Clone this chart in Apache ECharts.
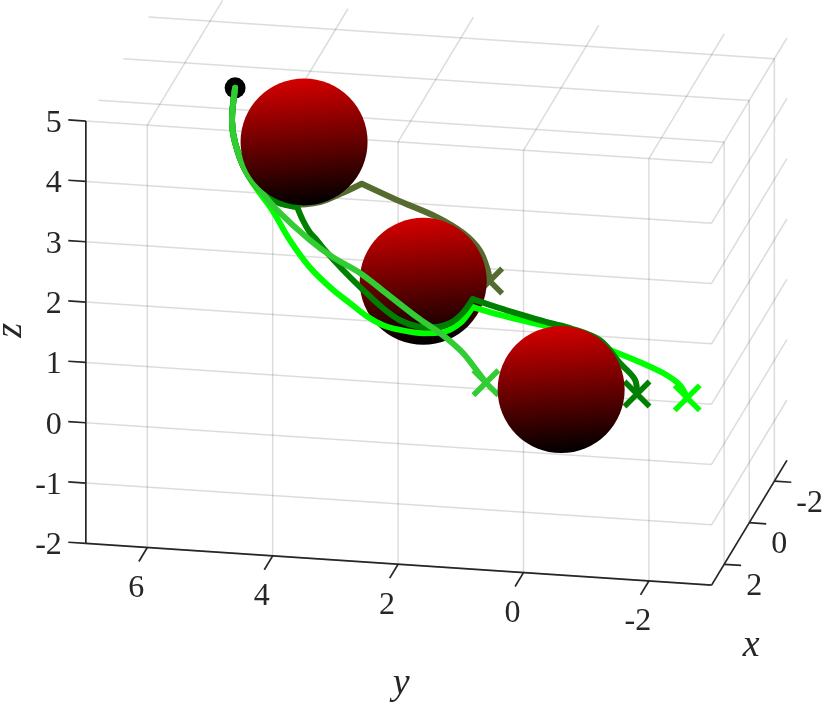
<!DOCTYPE html>
<html><head><meta charset="utf-8">
<style>html,body{margin:0;padding:0;background:#fff}#c{width:822px;height:703px}</style>
<script src="https://cdn.jsdelivr.net/npm/echarts@6/dist/echarts.min.js"></script>
</head><body><div id="c"></div>
<script>
// axis ticks
var xTicks = [2, 0, -2];
var yTicks = [6, 4, 2, 0, -2];
var zTicks = [5, 4, 3, 2, 1, 0, -1, -2];
var xLim = [-3, 3], yLim = [-3, 6.98], zLim = [-2, 5];

// obstacles (centres, unit radius)
var sphereX = [0.5, 1, 0];
var sphereY = [4, 2, 0];
var sphereZ = [4, 2, 0];

// start point
var startPoint = [0, 5.20, 4.64];

// trajectories, read at x = 0; repeated entries are corners
var olive = {
  y: [5.20, 5.25, 5.20, 5.04, 4.68, 4.33, 3.85, 3.48, 3.18, 3.18, 2.62, 1.98, 1.57, 1.30, 1.17, 1.14],
  z: [4.64, 4.10, 3.73, 3.29, 2.90, 2.76, 2.84, 3.02, 3.19, 3.19, 2.96, 2.72, 2.49, 2.22, 1.90, 1.72]
};
var bright = {
  y: [5.20, 5.25, 5.20, 5.04, 4.84, 4.61, 4.33, 4.01, 3.64, 3.37, 3.10, 2.84, 2.57, 2.20, 1.89, 1.61, 1.41, 1.41, 0.98, 0.45, 0.18, -0.30, -0.78, -1.26, -1.62, -1.89, -2.01],
  z: [4.64, 4.10, 3.73, 3.29, 2.97, 2.66, 2.18, 1.75, 1.40, 1.20, 1.00, 0.87, 0.81, 0.78, 0.82, 0.99, 1.27, 1.27, 1.17, 1.07, 1.02, 0.88, 0.71, 0.54, 0.39, 0.21, 0.00]
};
var dark = {
  y: [5.20, 5.25, 5.20, 5.04, 4.80, 4.53, 4.21, 4.21, 4.12, 4.01, 3.90, 3.77, 3.48, 3.21, 2.84, 2.57, 2.30, 2.05, 1.77, 1.57, 1.41, 1.41, 0.98, 0.61, 0.18, -0.14, -0.62, -0.94, -1.18, -1.21],
  z: [4.64, 4.10, 3.73, 3.29, 2.97, 2.79, 2.73, 2.73, 2.52, 2.33, 2.21, 2.05, 1.74, 1.48, 1.15, 0.97, 0.89, 0.89, 0.98, 1.16, 1.40, 1.40, 1.28, 1.19, 1.09, 1.03, 0.86, 0.50, 0.24, 0.01]
};
var lime = {
  y: [5.20, 5.25, 5.20, 5.04, 4.80, 4.53, 4.01, 3.64, 3.21, 2.84, 2.30, 1.89, 1.57, 1.33, 1.20],
  z: [4.64, 4.10, 3.73, 3.29, 2.97, 2.66, 2.20, 1.94, 1.71, 1.44, 1.04, 0.77, 0.50, 0.20, 0.03]
};

// orthographic view of the box
function project(x, y, z) {
  return [
    147.3 + (6 - y) * 62.7 + (3 - x) * 12.55,
    547.5 + (6 - y) * 4.18 - (3 - x) * 20.8 - (z + 2) * 60.33
  ];
}
var SPHERE_PX = 63.5;
var FONT = 'Liberation Serif';
var GRID = 'rgba(38,38,38,0.16)', AXIS = '#262626';

function seg(a, b, color, width, z) {
  return { type: 'line', data: [project.apply(null, a), project.apply(null, b)], showSymbol: false, silent: true,
    z: z, lineStyle: { color: color, width: width, cap: 'butt', opacity: 1 } };
}
function pieces(t) {
  var out = [], cur = [];
  t.y.forEach(function (v, i) {
    cur.push(project(0, v, t.z[i]));
    if (i > 0 && i < t.y.length - 1 && t.y[i + 1] === v && t.z[i + 1] === t.z[i]) { out.push(cur); cur = []; }
  });
  out.push(cur);
  return out;
}
function traj(list, t, color, width, z) {
  pieces(t).forEach(function (p) {
    list.push({ type: 'line', smooth: 0.33, showSymbol: false, silent: true, z: z, data: p,
      lineStyle: { color: color, width: width, join: 'round', cap: 'round' } });
  });
}
function cross(t, color, z) {
  var n = t.y.length - 1;
  return { type: 'scatter', silent: true, z: z, symbol: 'path://M0,0L10,10M10,0L0,10', symbolSize: 25,
    data: [project(0, t.y[n], t.z[n])],
    itemStyle: { color: 'none', borderColor: color, borderWidth: 5.5, borderCap: 'butt', opacity: 1 } };
}
function label(text, p, dx, dy, align, size, extra) {
  var l = { show: true, position: 'inside', formatter: text, color: AXIS, fontFamily: FONT, fontSize: size,
    align: align, verticalAlign: 'middle', offset: [dx, dy], opacity: 1 };
  if (extra) for (var k in extra) l[k] = extra[k];
  return { type: 'scatter', silent: true, z: 1, symbolSize: 1, data: [p], itemStyle: { color: 'rgba(0,0,0,0)', opacity: 1 }, label: l };
}

var series = [];
// grid
zTicks.forEach(function (v) {
  series.push(seg([xLim[1], yLim[1], v], [xLim[1], yLim[0], v], GRID, 1.5, 1));
  series.push(seg([xLim[1], yLim[0], v], [xLim[0], yLim[0], v], GRID, 1.5, 1));
});
yTicks.forEach(function (v) {
  series.push(seg([xLim[1], v, zLim[0]], [xLim[1], v, zLim[1]], GRID, 1.5, 1));
  series.push(seg([xLim[1], v, zLim[1]], [xLim[0], v, zLim[1]], GRID, 1.5, 1));
});
xTicks.forEach(function (v) {
  series.push(seg([v, yLim[1], zLim[1]], [v, yLim[0], zLim[1]], GRID, 1.5, 1));
  series.push(seg([v, yLim[0], zLim[1]], [v, yLim[0], zLim[0]], GRID, 1.5, 1));
});
// axes
series.push(seg([xLim[1], yLim[1], zLim[0]], [xLim[1], yLim[1], zLim[1]], AXIS, 1.7, 2));
series.push(seg([xLim[1], yLim[1], zLim[0]], [xLim[1], yLim[0], zLim[0]], AXIS, 1.7, 2));
series.push(seg([xLim[1], yLim[0], zLim[0]], [xLim[0], yLim[0], zLim[0]], AXIS, 1.7, 2));
zTicks.forEach(function (v) {
  series.push(seg([xLim[1], yLim[1], v], [xLim[1], yLim[1] + 0.28, v], AXIS, 1.7, 2));
  series.push(label(String(v), project(xLim[1], yLim[1], v), -24, 2.5, 'right', 32));
});
yTicks.forEach(function (v) {
  series.push(seg([xLim[1], v, zLim[0]], [xLim[1] + 0.67, v, zLim[0]], AXIS, 1.7, 2));
  series.push(label(String(v), project(xLim[1], v, zLim[0]), -11, 41, 'center', 32));
});
xTicks.forEach(function (v) {
  series.push(seg([v, yLim[0], zLim[0]], [v, yLim[0] - 0.27, zLim[0]], AXIS, 1.7, 2));
  series.push(label(String(v), project(v, yLim[0], zLim[0]), 22, 22, 'left', 32));
});
// axis titles
series.push(label('y', project(xLim[1], 2, zLim[0]), 3, 120, 'center', 38, { fontStyle: 'italic' }));
series.push(label('x', project(0, yLim[0], zLim[0]), 2, 123, 'center', 38, { fontStyle: 'italic' }));
series.push(label('z', project(xLim[1], yLim[1], 1.5), 2, -75, 'center', 38, { fontStyle: 'italic', rotate: 90 }));

function sphere(i, z) {
  return { type: 'scatter', silent: true, z: z, symbol: 'circle', symbolSize: 2 * SPHERE_PX,
    data: [project(sphereX[i], sphereY[i], sphereZ[i])],
    itemStyle: { opacity: 1, color: { type: 'linear', x: 0.46, y: 0, x2: 0.54, y2: 1,
      colorStops: [{ offset: 0, color: '#d40000' }, { offset: 1, color: '#000000' }] } } };
}
// marks, back to front
series.push({ type: 'scatter', silent: true, z: 3, symbolSize: 21, data: [project.apply(null, startPoint)], itemStyle: { color: '#000', opacity: 1 } });
traj(series, olive, '#556b2f', 6, 4);
series.push(cross(olive, '#556b2f', 4));
series.push(sphere(1, 5));
traj(series, bright, '#00ff00', 6, 6);
series.push(cross(bright, '#00ff00', 6));
traj(series, dark, '#008000', 6, 7);
series.push(cross(dark, '#008000', 7));
traj(series, lime, '#32cd32', 6, 8);
series.push(cross(lime, '#32cd32', 8));
series.push(sphere(0, 9));
series.push(sphere(2, 9));

var chart = echarts.init(document.getElementById('c'), null, { renderer: 'canvas' });
chart.setOption({
  animation: false,
  backgroundColor: '#fff',
  grid: { left: 0, right: 0, top: 0, bottom: 0 },
  xAxis: { type: 'value', min: 0, max: 822, show: false },
  yAxis: { type: 'value', min: 0, max: 703, inverse: true, show: false },
  series: series
});
</script></body></html>
